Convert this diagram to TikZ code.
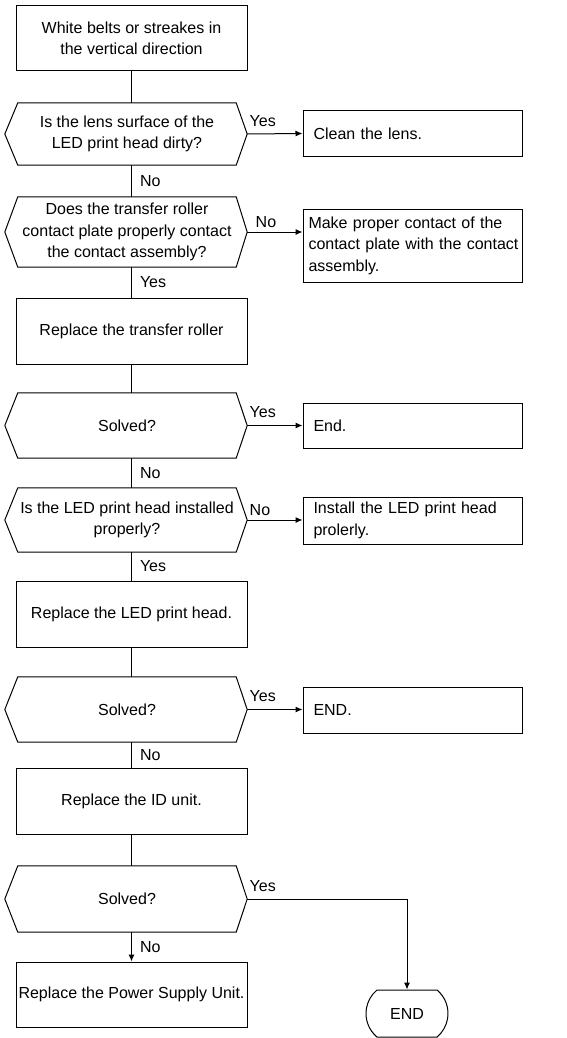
\documentclass[tikz,border=0pt]{standalone}
\usepackage{fontspec}
\setmainfont{Liberation Sans}
\usetikzlibrary{arrows.meta,positioning,shapes.misc}

\tikzset{
  every node/.style={font=\fontsize{16pt}{21.5pt}\selectfont},
  stepbox/.style={draw,line width=1pt,minimum width=231pt,align=center,inner sep=0pt},
  query/.style={minimum width=218pt,align=center,inner sep=0pt},
  actbox/.style={draw,line width=1pt,text width=208pt,inner xsep=5.5pt,inner ysep=0pt,align=left},
  term/.style={draw,line width=1pt,rounded rectangle,rounded rectangle arc length=100,minimum width=82pt,minimum height=47pt,inner sep=0pt},
  link/.style={line width=1pt},
  flow/.style={line width=1pt,-{Latex[length=7pt,width=6pt]}},
  lbl/.style={inner sep=2pt}
}

\begin{document}
\begin{tikzpicture}[x=1pt,y=-1pt]
    \useasboundingbox (0,0) rectangle (566,1038);

    % main column
    \node[stepbox,minimum height=65pt] (start) at (131.5,38.5) {White belts or streakes in\\the vertical direction};
    \node[query,minimum height=62pt] (lens) at (127,134) {Is the lens surface of the\\LED print head dirty?};
    \node[query,minimum height=70pt] (plate) at (127,232) {Does the transfer roller\\contact plate properly contact\\the contact assembly?};
    \node[stepbox,minimum height=66pt] (roller) at (131.5,331) {Replace the transfer roller};
    \node[query,minimum height=65pt] (solvedA) at (127,425.5) {Solved?};
    \node[query,minimum height=64pt] (head) at (127,520) {Is the LED print head installed\\properly?};
    \node[stepbox,minimum height=66pt] (newhead) at (131.5,614) {Replace the LED print head.};
    \node[query,minimum height=65pt] (solvedB) at (127,709.5) {Solved?};
    \node[stepbox,minimum height=66pt] (idunit) at (131.5,801) {Replace the ID unit.};
    \node[query,minimum height=66pt] (solvedC) at (127,899) {Solved?};
    \node[stepbox,minimum height=65pt] (psu) at (131.5,994.5) {Replace the Power Supply Unit.};

    % right column
    \node[actbox,minimum height=45pt] (clean) at (412.5,133.5) {\hspace*{5pt}Clean the lens.};
    \node[actbox,minimum height=73pt] (contact) at (412.5,245.5) {\mbox{Make proper contact of the}\\\mbox{contact plate with the contact}\\\mbox{assembly.}};
    \node[actbox,minimum height=45pt] (endA) at (412.5,425.5) {\hspace*{5pt}End.};
    \node[actbox,minimum height=47pt] (install) at (412.5,520.5) {\hspace*{5pt}Install the LED print head\\\hspace*{5pt}prolerly.};
    \node[actbox,minimum height=46pt] (endB) at (412.5,710) {\hspace*{5pt}END.};
    \node[term] (finish) at (407,1013.5) {END};

    % hexagons round the questions
    \foreach \q in {lens,plate,solvedA,head,solvedB,solvedC}
      \draw[link] (\q.north west) -- (\q.north east) -- ([xshift=11pt]\q.east)
        -- (\q.south east) -- (\q.south west) -- ([xshift=-13pt]\q.west) -- cycle;

    % vertical links
    \draw[link] (start.south) -- (start.south |- lens.north);
    \draw[link] (lens.south -| start) -- node[lbl,right=6pt] {No} (plate.north -| start);
    \draw[link] (plate.south -| start) -- node[lbl,right=6pt] {Yes} (roller.north);
    \draw[link] (roller.south) -- (roller.south |- solvedA.north);
    \draw[link] (solvedA.south -| start) -- node[lbl,right=6pt] {No} (head.north -| start);
    \draw[link] (head.south -| start) -- node[lbl,right=6pt] {Yes} (newhead.north);
    \draw[link] (newhead.south) -- (newhead.south |- solvedB.north);
    \draw[link] (solvedB.south -| start) -- node[lbl,right=6pt] {No} (idunit.north);
    \draw[link] (idunit.south) -- (idunit.south |- solvedC.north);
    \draw[flow] (solvedC.south -| start) -- node[lbl,right=6pt] {No} (psu.north);

    % branches to the right
    \draw[flow] ([xshift=11pt]lens.east) -- node[lbl,pos=0,anchor=south west,yshift=5pt] {Yes} (clean.west);
    \draw[flow] ([xshift=11pt]plate.east) -- node[lbl,pos=0,anchor=south west,xshift=6pt,yshift=2pt] {No} (contact.west |- plate.east);
    \draw[flow] ([xshift=11pt]solvedA.east) -- node[lbl,pos=0,anchor=south west,yshift=5pt] {Yes} (endA.west);
    \draw[flow] ([xshift=11pt]head.east) -- node[lbl,pos=0,anchor=south west,yshift=2pt] {No} (install.west |- head.east);
    \draw[flow] ([xshift=11pt]solvedB.east) -- node[lbl,pos=0,anchor=south west,yshift=5pt] {Yes} (endB.west |- solvedB.east);
    \draw[flow] ([xshift=11pt]solvedC.east) -| node[lbl,pos=0,anchor=south west,yshift=5pt] {Yes} (finish.north);
\end{tikzpicture}
\end{document}
